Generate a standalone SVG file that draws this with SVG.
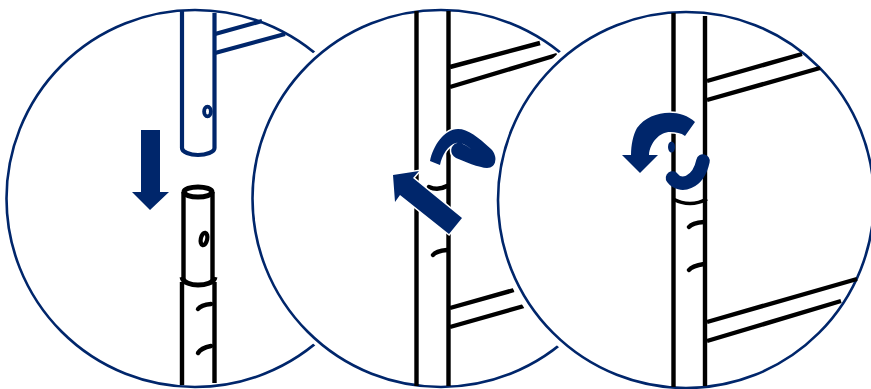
<svg xmlns="http://www.w3.org/2000/svg" width="871" height="389" viewBox="0 0 871 389">
<style>
.c{fill:#fff;stroke:#00266b;stroke-width:2.6}
.h{fill:none;stroke:#fff;stroke-width:7}
.k{fill:none;stroke:#000;stroke-width:4.4;stroke-linecap:butt}
.t{fill:none;stroke:#000;stroke-width:4.4;stroke-linecap:round}
.n{fill:none;stroke:#00266b;stroke-width:4.2}
.a{fill:#00266b}
.ah{fill:#00266b;stroke:#fff;stroke-width:3;paint-order:stroke}
</style>
<rect width="871" height="389" fill="#fff"/>
<g id="panel-1">
<circle class="c" cx="195" cy="198.5" r="188.5"/>
<path class="n" d="M182 10V148C182 152 190 155 198 155C206 155 214.500 152 214.500 148V13"/>
<path class="n" d="M215 34L262 21M215 53L285 34"/>
<ellipse cx="207.500" cy="111.500" rx="3.400" ry="4.800" fill="none" stroke="#00266b" stroke-width="3.800"/>
<path class="a" d="M141 130H160V192H169L150 210L132 192H141Z"/>
<ellipse cx="198" cy="192" rx="14" ry="5" fill="#fff" stroke="#000" stroke-width="5"/>
<path class="k" d="M183.500 192V281M212.500 192V281"/>
<path class="k" d="M182 282V385M214.500 282V383"/>
<path d="M182 277C183 283 192 285 198 285C205 285 214 283 215 277" fill="none" stroke="#000" stroke-width="5"/>
<ellipse cx="204" cy="239" rx="3.200" ry="6.300" transform="rotate(12 204 239)" fill="#fff" stroke="#000" stroke-width="4.200"/>
<path class="t" d="M198 309Q201 305 211 304M198 353Q201 348 211 346"/>
</g>
<g id="panel-2">
<circle class="h" cx="441" cy="198.500" r="190"/>
<circle class="c" cx="441" cy="198.500" r="188.500"/>
<path class="k" d="M416.500 11V386M448.500 11V386"/>
<path class="k" d="M450 67L540 43M450 87L557 55M450 308L514 290M450 327L524 306"/>
<path class="t" d="M429 187Q438 191 447 186M433 255Q436 251 447 250"/>
<path class="ah" d="M393 175L419 171L413 178L462 218L449 234L400 195L395 202Z"/>
<path class="ah" d="M430 161C433 146 444 129 458 129C468 129 478 137 491 149C498 156 497 168 487 168C480 168 463 161 456 158C449 154 450 145 457 143C460 142 467 146 471 149C465 144 460 142 456 143C448 145 442 155 440 165Z"/>
</g>
<g id="panel-3">
<circle class="h" cx="686" cy="200" r="191"/>
<circle class="c" cx="686" cy="200" r="188"/>
<path class="k" d="M673.500 13V387M705 16V386"/>
<path class="k" d="M707 81L802 54M707 100L820 68M707 322L857 279M707 341L841 301"/>
<path class="k" style="stroke-width:3.600" d="M673 199Q690 208 707 199"/>
<path class="t" d="M689 227Q692 223 704 222M689 270Q692 266 704 264"/>
<ellipse class="a" cx="671.500" cy="147" rx="3.500" ry="5.500"/>
<path class="ah" d="M695 122C680 108 650 110 637 128C633 135 631 145 631 155H622L640 173L658 155H649C650 142 660 132 670 132C676 132 681 133 685 136Z"/>
<path d="M672.500 178C680 188 698 184 703 161" fill="none" stroke="#00266b" stroke-width="13.500" stroke-linecap="round"/>
</g>
</svg>
